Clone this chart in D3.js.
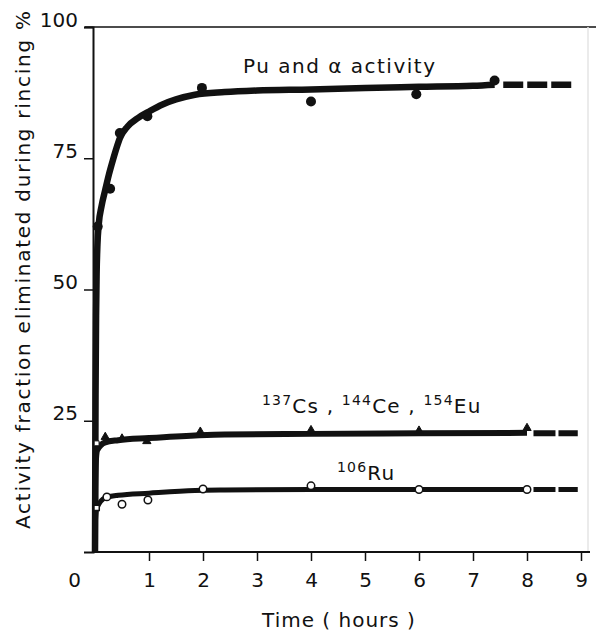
<!DOCTYPE html>
<html>
<head>
<meta charset="utf-8">
<script src="https://cdn.jsdelivr.net/npm/d3@7"></script>
<style>
  body { margin: 0; background: #fff; }
  svg text { font-family: "DejaVu Sans", sans-serif; fill: #111; }
</style>
</head>
<body>
<div id="chart"></div>
<script>
// ticks
const xTicks = [0, 1, 2, 3, 4, 5, 6, 7, 8, 9];
const yTicks = [25, 50, 75, 100];

// measured points (hours, %)
const puTime = [0.05, 0.28, 0.46, 0.97, 1.98, 4, 5.95, 7.4];
const puValue = [62, 69.2, 79.8, 83, 88.4, 85.8, 87.2, 89.8];
const csTime = [0.03, 0.19, 0.5, 0.96, 1.95, 4, 6, 8];
const csValue = [20.7, 21.9, 21.6, 21.1, 22.9, 23.2, 23.1, 23.6];
const ruTime = [0.03, 0.22, 0.5, 0.98, 2, 4, 6, 8];
const ruValue = [8.4, 10.5, 9.1, 9.9, 12, 12.6, 11.9, 11.9];

// fitted curves
const puFitTime = [0, 0.01, 0.02, 0.03, 0.045, 0.07, 0.12, 0.19, 0.26, 0.33, 0.4, 0.46, 0.6, 0.8, 1, 1.24, 1.5, 1.85, 2.4, 3, 4, 5, 6, 7, 7.4];
const puFitValue = [0, 30, 45, 53, 58.5, 62.5, 65.8, 69, 72, 74.6, 77, 78.8, 81, 82.7, 83.9, 85.2, 86.2, 87.1, 87.6, 87.9, 88.1, 88.4, 88.6, 88.8, 89];
const csFitTime = [0, 0.005, 0.02, 0.04, 0.19, 0.43, 1, 1.85, 2.4, 4, 6, 8];
const csFitValue = [0, 12, 18, 19.4, 20.9, 21.3, 21.7, 22.2, 22.4, 22.5, 22.6, 22.7];
const ruFitTime = [0, 0.005, 0.02, 0.04, 0.19, 0.43, 1, 1.85, 2.4, 4, 6, 8];
const ruFitValue = [0, 5, 7.6, 8.5, 10.3, 10.8, 11.2, 11.7, 11.8, 11.9, 11.9, 11.9];

// dashed extrapolations
const puDashTime = [7.56, 8.86];
const puDashValue = [89, 89];
const csDashTime = [8.12, 8.94];
const csDashValue = [22.6, 22.6];
const ruDashTime = [8.12, 8.94];
const ruDashValue = [11.9, 11.9];

const width = 596, height = 632;

const svg = d3.select('#chart').append('svg')
    .attr('width', width)
    .attr('height', height);

const x = d3.scaleLinear().domain([0, 9]).range([95, 581]);
const y = d3.scaleLinear().domain([0, 100]).range([552, 27]);

const axisX = x(0) - 2;

// frame: top line, faint right edge
svg.append('line')
    .attr('x1', axisX - 8).attr('x2', width)
    .attr('y1', y(100)).attr('y2', y(100))
    .attr('stroke', '#111').attr('stroke-width', 1.6);
svg.append('line')
    .attr('x1', 588).attr('x2', 588)
    .attr('y1', y(100)).attr('y2', y(0))
    .attr('stroke', '#e4e4e4').attr('stroke-width', 1.5);

// y axis
const gy = svg.append('g')
    .attr('transform', 'translate(' + axisX + ',0)')
    .call(d3.axisLeft(y).tickValues(yTicks).tickSize(9).tickPadding(6));
gy.select('.domain').attr('stroke', '#111').attr('stroke-width', 2);
gy.selectAll('.tick line').attr('stroke', '#111').attr('stroke-width', 1.5);
gy.selectAll('.tick text')
    .attr('font-size', 20)
    .attr('font-family', '"DejaVu Sans", sans-serif')
    .attr('fill', '#111')
    .attr('dy', '-0.05em');

// x axis
const gx = svg.append('g')
    .attr('transform', 'translate(0,' + y(0) + ')')
    .call(d3.axisBottom(x).tickValues(xTicks).tickSize(9).tickPadding(12));
gx.select('.domain').attr('stroke', '#111').attr('stroke-width', 2)
    .attr('d', 'M' + axisX + ',0H590');
gx.selectAll('.tick line').attr('stroke', '#111').attr('stroke-width', 1.5)
    .attr('opacity', d => d === 0 ? 0 : 1);
gx.selectAll('.tick text')
    .attr('font-size', 20)
    .attr('font-family', '"DejaVu Sans", sans-serif')
    .attr('fill', '#111')
    .attr('dx', d => d === 0 ? -21 : 0);

// axis titles
svg.append('text')
    .attr('x', 339)
    .attr('y', 627)
    .attr('text-anchor', 'middle')
    .attr('font-size', 20)
    .attr('letter-spacing', 1)
    .text('Time ( hours )');

svg.append('text')
    .attr('transform', 'translate(30,270) rotate(-90)')
    .attr('text-anchor', 'middle')
    .attr('font-size', 20)
    .attr('textLength', 518)
    .attr('lengthAdjust', 'spacing')
    .text('Activity fraction eliminated during rincing %');

// curves
const line = d3.line()
    .x(d => x(d[0]))
    .y(d => y(d[1]))
    .curve(d3.curveMonotoneX);

function zip(a, b) { return a.map((v, i) => [v, b[i]]); }

const fits = [
    { pts: zip(puFitTime, puFitValue), w: 6.5 },
    { pts: zip(csFitTime, csFitValue), w: 6 },
    { pts: zip(ruFitTime, ruFitValue), w: 5 }
];
fits.forEach(f => {
    svg.append('path')
        .attr('d', line(f.pts))
        .attr('fill', 'none')
        .attr('stroke', '#111')
        .attr('stroke-width', f.w)
        .attr('stroke-linejoin', 'round');
});

const dashes = [
    { pts: zip(puDashTime, puDashValue), dash: '20,4', w: 6.5 },
    { pts: zip(csDashTime, csDashValue), dash: '22,3', w: 6 },
    { pts: zip(ruDashTime, ruDashValue), dash: '22,3', w: 5 }
];
dashes.forEach(f => {
    svg.append('path')
        .attr('d', d3.line().x(d => x(d[0])).y(d => y(d[1]))(f.pts))
        .attr('fill', 'none')
        .attr('stroke', '#111')
        .attr('stroke-width', f.w)
        .attr('stroke-dasharray', f.dash);
});

// points
svg.append('g').selectAll('circle')
    .data(zip(puTime, puValue))
    .join('circle')
    .attr('cx', d => x(d[0]))
    .attr('cy', d => y(d[1]))
    .attr('r', 5)
    .attr('fill', '#111');

svg.append('g').selectAll('path')
    .data(zip(csTime, csValue))
    .join('path')
    .attr('transform', d => 'translate(' + x(d[0]) + ',' + y(d[1]) + ')')
    .attr('d', (d, i) => d3.symbol().type(i === 0 ? d3.symbolSquare : d3.symbolTriangle).size(i === 0 ? 24 : 30)())
    .attr('fill', (d, i) => i === 0 ? '#fff' : '#111')
    .attr('stroke', '#111')
    .attr('stroke-width', 1);

svg.append('g').selectAll('path')
    .data(zip(ruTime, ruValue))
    .join('path')
    .attr('transform', d => 'translate(' + x(d[0]) + ',' + y(d[1]) + ')')
    .attr('d', (d, i) => d3.symbol().type(i === 0 ? d3.symbolSquare : d3.symbolCircle).size(i === 0 ? 28 : 44)())
    .attr('fill', '#fff')
    .attr('stroke', '#111')
    .attr('stroke-width', 1.5);

// series labels
svg.append('text')
    .attr('x', 243).attr('y', 73)
    .attr('font-size', 20)
    .attr('letter-spacing', 1.5)
    .text('Pu and \u03b1 activity');

const cs = svg.append('text').attr('x', 262).attr('y', 413)
    .attr('font-size', 20).attr('letter-spacing', 1.2);
[['137', 'Cs , '], ['144', 'Ce , '], ['154', 'Eu']].forEach(p => {
    cs.append('tspan').attr('font-size', 14).attr('dy', -8).text(p[0]);
    cs.append('tspan').attr('dy', 8).text(p[1]);
});

const ru = svg.append('text').attr('x', 337).attr('y', 480)
    .attr('font-size', 20).attr('letter-spacing', 1.2);
ru.append('tspan').attr('font-size', 14).attr('dy', -8).text('106');
ru.append('tspan').attr('dy', 8).text('Ru');
</script>
</body>
</html>
